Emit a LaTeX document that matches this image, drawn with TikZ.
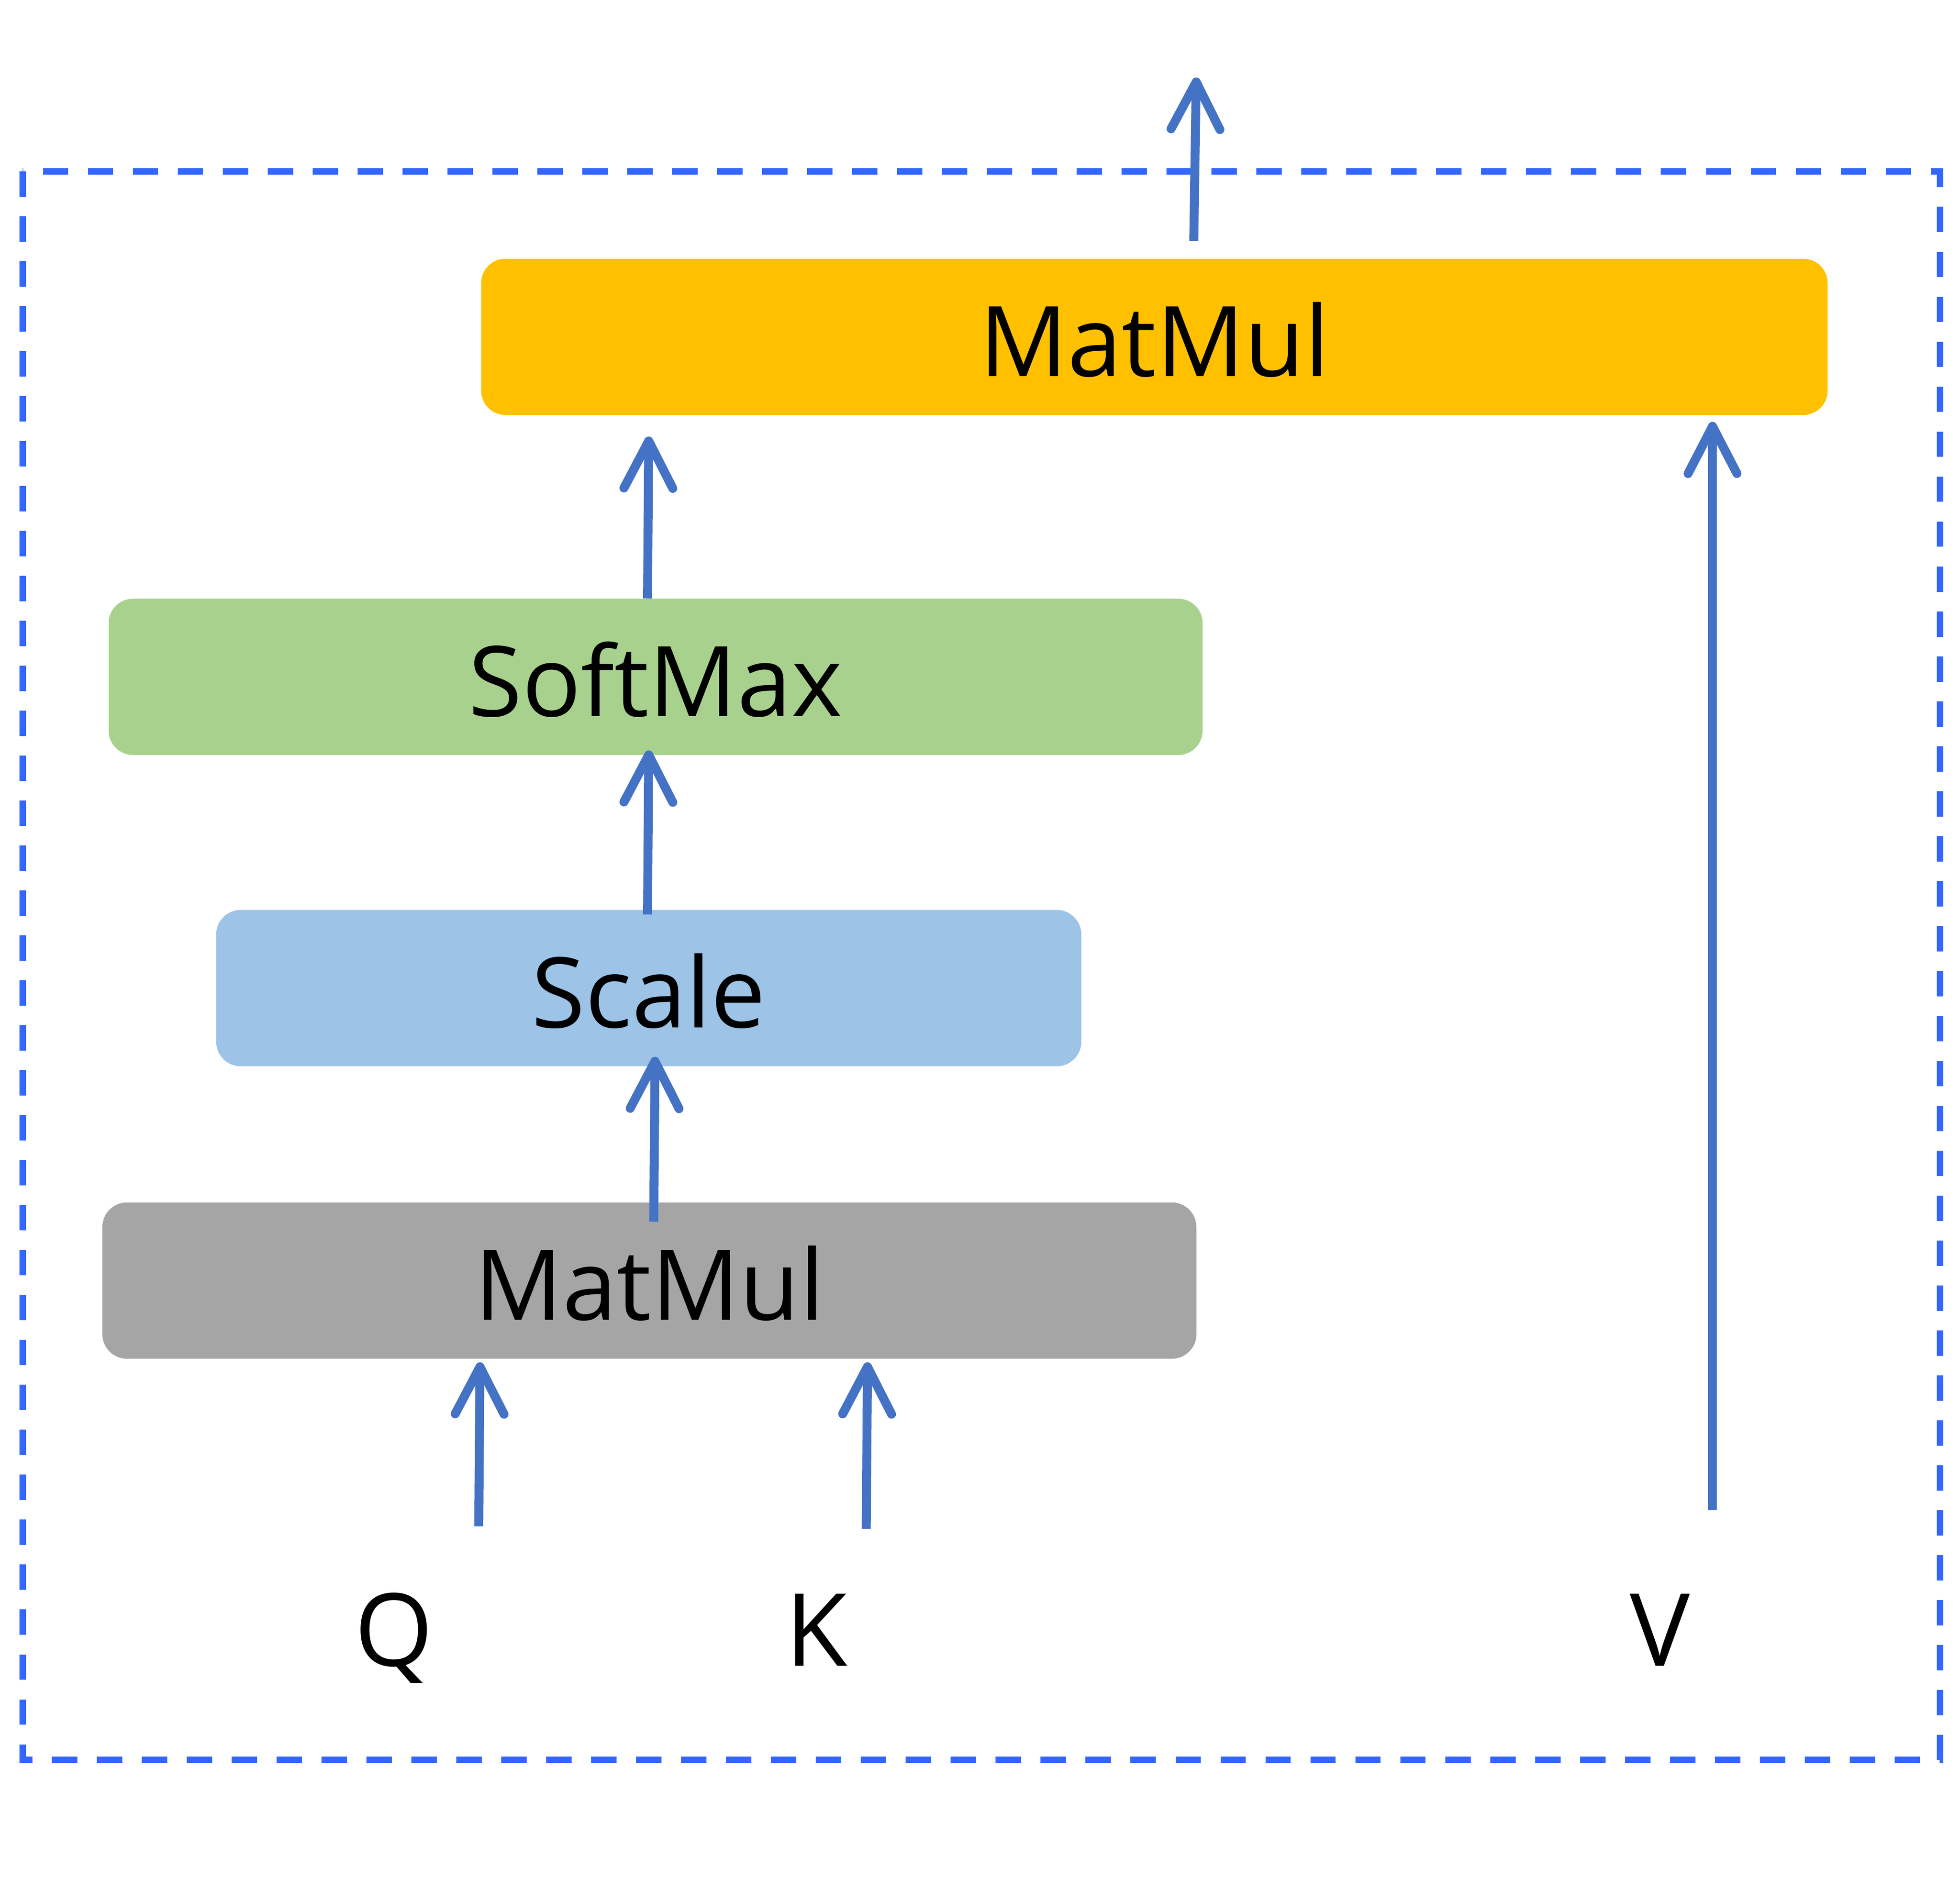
\documentclass[tikz,border=0pt]{standalone}
\usepackage{fontspec}
\setmainfont{Open Sans}
\usetikzlibrary{arrows.meta}
\definecolor{arrblue}{HTML}{4472C4}
\definecolor{dashblue}{HTML}{3366FF}
\definecolor{boxyellow}{HTML}{FFC000}
\definecolor{boxgreen}{HTML}{A9D18E}
\definecolor{boxblue}{HTML}{9DC3E6}
\definecolor{boxgray}{HTML}{A5A5A5}
\tikzset{
  opbox/.style={rounded corners=15pt, inner sep=0pt, minimum height=3.373cm,
    font=\fontsize{60pt}{70pt}\selectfont, text height=48.5pt, text depth=0pt},
  arr/.style={draw=arrblue, line width=5.5pt,
    -{Straight Barb[length=29pt,width=30pt,round]}},
  lbl/.style={anchor=base, font=\fontsize{62pt}{72pt}\selectfont, inner sep=0pt},
  frame/.style={draw=dashblue, line width=4pt, dash pattern=on 15.6pt off 12pt}
}
\begin{document}
\begin{tikzpicture}[x=0.026983cm, y=-0.026984cm]
\useasboundingbox (0,0) rectangle (1568,1512);
\draw[frame] (18,137) rectangle (1552,1408);
\node[opbox, fill=boxyellow, minimum width=29.06cm] (mm2) at (923.5,269.5) {MatMul};
\node[opbox, fill=boxgreen, minimum width=23.61cm] (sm) at (524.5,541.5) {SoftMax};
\node[opbox, fill=boxblue, minimum width=18.67cm] (sc) at (519,790.5) {Scale};
\node[opbox, fill=boxgray, minimum width=23.61cm] (mm1) at (519.5,1024.5) {MatMul};
\node[lbl] (q) at (315,1333) {Q};
\node[lbl] (k) at (653,1333) {K};
\node[lbl] (v) at (1328,1333) {V};
\coordinate (out) at (957,62);
% arrows
\draw[arr] (mm2.north -| 955,0) ++(0,-14) -- (out);
\draw[arr] (sm.north -| 518,0) -- ([yshift=-13pt]mm2.south -| 519,0);
\draw[arr] ([yshift=-3pt]sc.north -| 518,0) -- ([yshift=3pt]sm.south -| 519,0);
\draw[arr] ([yshift=-12pt]mm1.north -| 523,0) -- ([yshift=6pt]sc.south -| 524,0);
\draw[arr] (q.north -| 383,0) ++(0,-53) -- ([yshift=-2pt]mm1.south -| 384,0);
\draw[arr] (k.north -| 693,0) ++(0,-52) -- ([yshift=-2pt]mm1.south -| 694,0);
\draw[arr] (v.north -| 1370,0) ++(0,-67) -- ([yshift=-4pt]mm2.south -| 1370,0);
\end{tikzpicture}
\end{document}
